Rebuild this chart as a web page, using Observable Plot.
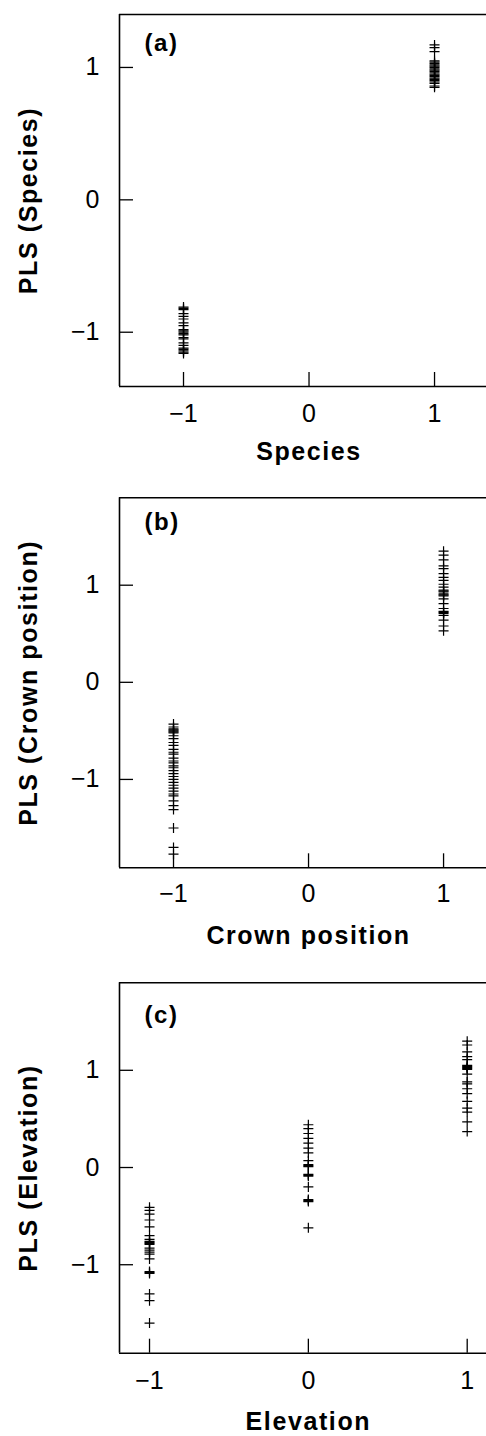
<!DOCTYPE html>
<html>
<head>
<meta charset="utf-8">
<script src="https://cdn.jsdelivr.net/npm/d3@7"></script>
<script src="https://cdn.jsdelivr.net/npm/@observablehq/plot@0.6"></script>
<style>
  html, body { margin: 0; padding: 0; background: #fff; overflow: hidden; }
  #chart svg { display: block; }
  #chart g[font-weight="bold"] text { letter-spacing: 1.6px; }
</style>
</head>
<body>
<div id="chart"></div>
<script>
// ---- data ----
const axisTicks = [-1, 0, 1];

// (a) Species: PLS prediction for species coded -1 / 1
const speciesNeg = [-0.81, -0.82, -0.83, -0.86, -0.88, -0.90, -0.93, -0.95, -0.98, -0.99, -1.00, -1.01, -1.02, -1.04, -1.05, -1.08, -1.10, -1.12, -1.13, -1.14, -1.15, -1.16];
const speciesPos = [1.17, 1.15, 1.12, 1.05, 1.04, 1.03, 1.02, 1.01, 1.00, 0.99, 0.98, 0.97, 0.96, 0.95, 0.94, 0.93, 0.92, 0.91, 0.90, 0.89, 0.88, 0.86, 0.85];

// (b) Crown position coded -1 / 1
const crownNeg = [-0.43, -0.46, -0.48, -0.49, -0.50, -0.51, -0.52, -0.55, -0.58, -0.62, -0.65, -0.69, -0.72, -0.74, -0.78, -0.81, -0.83, -0.86, -0.88, -0.91, -0.94, -0.97, -1.00, -1.03, -1.06, -1.09, -1.12, -1.15, -1.17, -1.22, -1.27, -1.31, -1.50, -1.70, -1.77];
const crownPos = [1.35, 1.31, 1.26, 1.20, 1.17, 1.12, 1.08, 1.05, 1.01, 0.98, 0.95, 0.94, 0.93, 0.91, 0.90, 0.89, 0.86, 0.81, 0.76, 0.73, 0.72, 0.71, 0.69, 0.64, 0.58, 0.53];

// (c) Elevation coded -1 / 0 / 1
const elevNeg = [-0.41, -0.44, -0.48, -0.54, -0.61, -0.70, -0.74, -0.76, -0.77, -0.78, -0.79, -0.83, -0.85, -0.87, -0.89, -0.94, -1.07, -1.08, -1.09, -1.30, -1.37, -1.60];
const elevMid = [0.44, 0.40, 0.35, 0.30, 0.25, 0.20, 0.15, 0.07, 0.03, 0.02, 0.01, -0.07, -0.08, -0.09, -0.20, -0.33, -0.34, -0.35, -0.62];
const elevPos = [1.30, 1.26, 1.19, 1.14, 1.11, 1.05, 1.04, 1.03, 1.02, 1.01, 0.96, 0.88, 0.86, 0.81, 0.76, 0.68, 0.61, 0.57, 0.47, 0.37];

const panelLetters = ["(a)", "(b)", "(c)"];
const xLabels = ["Species", "Crown position", "Elevation"];
const yLabels = ["PLS (Species)", "PLS (Crown position)", "PLS (Elevation)"];

// ---- build tables ----
const toRows = (x, ys) => ys.map(y => ({x, y}));
const panelData = [
  [...toRows(-1, speciesNeg), ...toRows(1, speciesPos)],
  [...toRows(-1, crownNeg), ...toRows(1, crownPos)],
  [...toRows(-1, elevNeg), ...toRows(0, elevMid), ...toRows(1, elevPos)]
];

// ---- layout ----
const layout = [
  {height: 480, mt: 14,   mb: 94,   xd: [-1.51, 1.414],  yd: [-1.41, 1.40], tickPad: 18,   xLabDy: 73.3, letDy: 36},
  {height: 480, mt: 17.3, mb: 92.7, xd: [-1.40, 1.318],  yd: [-1.91, 1.90], tickPad: 16.7, xLabDy: 76,   letDy: 32},
  {height: 476, mt: 22.3, mb: 83.3, xd: [-1.189, 1.1215], yd: [-1.91, 1.90], tickPad: 17.9, xLabDy: 77,  letDy: 40}
];

const fmt = d => (d < 0 ? "\u2212" : "") + Math.abs(d);

// thin "+" symbol
const thinPlus = {
  draw(ctx, size) {
    const r = Math.sqrt(size / Math.PI);
    ctx.moveTo(-r, 0); ctx.lineTo(r, 0);
    ctx.moveTo(0, -r); ctx.lineTo(0, r);
  }
};

const container = document.getElementById("chart");
layout.forEach((L, i) => {
  const [x0] = L.xd;
  const [y0, y1] = L.yd;
  const chart = Plot.plot({
    width: 486,
    height: L.height,
    marginTop: L.mt,
    marginBottom: L.mb,
    marginLeft: 119,
    marginRight: 0,
    style: {fontFamily: "'Liberation Sans', Arial, Helvetica, sans-serif", fontSize: "25px", color: "black", background: "white"},
    x: {domain: L.xd, axis: null},
    y: {domain: L.yd, axis: null},
    marks: [
      // frame: top, bottom, left
      Plot.ruleY([y0, y1], {stroke: "black", strokeWidth: 1.6}),
      Plot.ruleX([x0], {stroke: "black", strokeWidth: 1.6}),
      // inward ticks
      Plot.ruleX(axisTicks, {x: d => d, y1: () => y0, y2: () => y0, insetTop: -14, stroke: "black", strokeWidth: 1.3}),
      Plot.ruleY(axisTicks, {y: d => d, x1: () => x0, x2: () => x0, insetLeft: 14, stroke: "black", strokeWidth: 1.3}),
      // tick labels
      Plot.axisX(axisTicks, {tickSize: 0, tickPadding: L.tickPad, label: null, fontSize: 25, tickFormat: fmt}),
      Plot.axisY(axisTicks, {tickSize: 0, tickPadding: 20, label: null, fontSize: 25, tickFormat: fmt}),
      // data
      Plot.dot(panelData[i], {x: "x", y: "y", symbol: thinPlus, r: 5, stroke: "black", fill: "none", strokeWidth: 1.2}),
      // panel letter
      Plot.text([panelLetters[i]], {text: d => d, frameAnchor: "top-left", dx: 25, dy: L.letDy, textAnchor: "start", lineAnchor: "bottom", fontSize: 24, fontWeight: "bold"}),
      // x label
      Plot.text([xLabels[i]], {x: () => 0, text: d => d, frameAnchor: "bottom", dy: L.xLabDy, textAnchor: "middle", lineAnchor: "bottom", fontSize: 25, fontWeight: "bold"}),
      // y label
      Plot.text([yLabels[i]], {text: d => d, frameAnchor: "left", dx: -83, rotate: -90, textAnchor: "middle", lineAnchor: "bottom", fontSize: 25, fontWeight: "bold"})
    ]
  });
  container.appendChild(chart);
});
</script>
</body>
</html>
